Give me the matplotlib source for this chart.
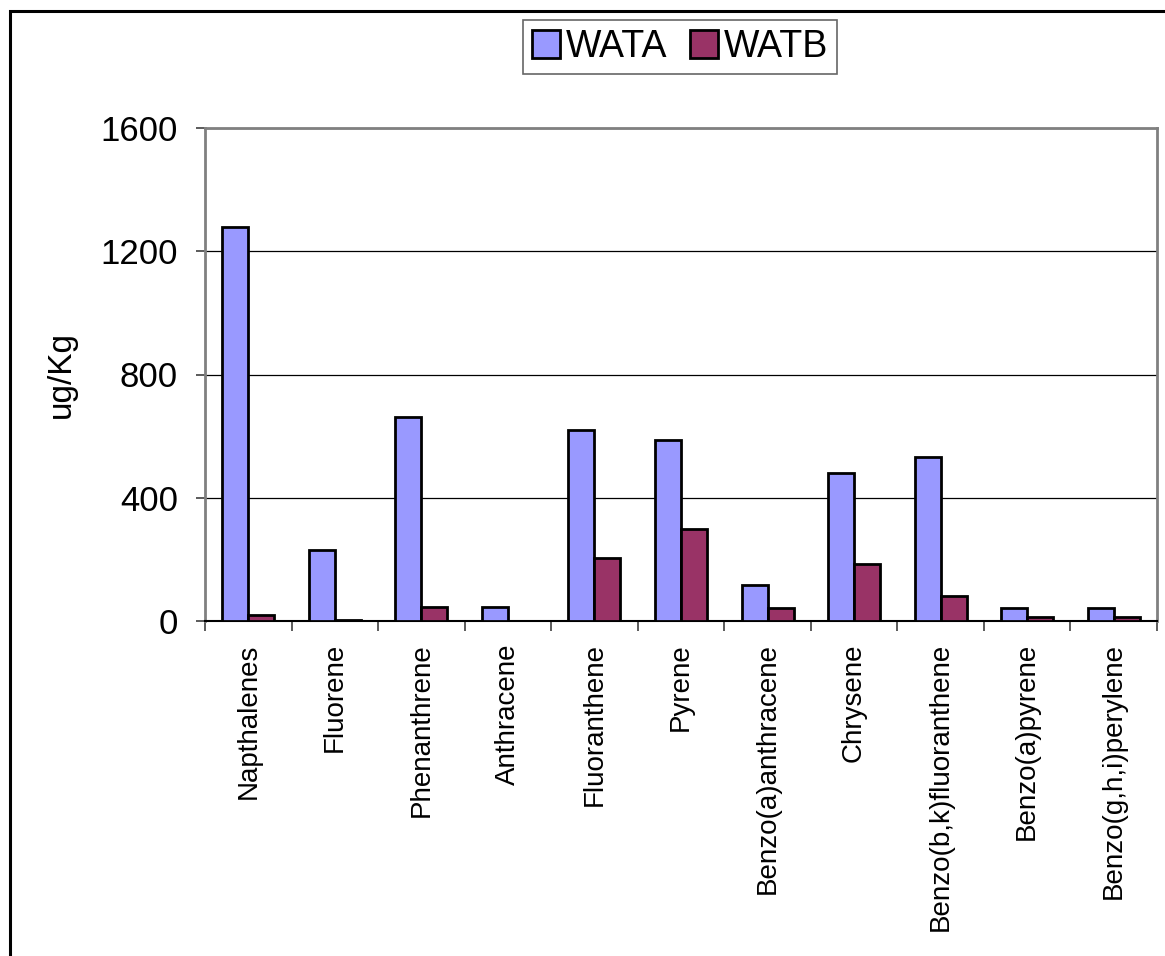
import numpy as np
import matplotlib
matplotlib.use("Agg")
import matplotlib.pyplot as plt
from matplotlib.patches import Rectangle

plt.rcParams['font.family'] = ['Liberation Sans', 'DejaVu Sans']

# Data
compounds = ['Napthalenes', 'Fluorene', 'Phenanthrene', 'Anthracene', 'Fluoranthene',
             'Pyrene', 'Benzo(a)anthracene', 'Chrysene', 'Benzo(b,k)fluoranthene',
             'Benzo(a)pyrene', 'Benzo(g,h,i)perylene']
wata = [1278, 230, 663, 47, 619, 586, 118, 481, 533, 41, 41]
watb = [21, 4, 47, 0, 204, 299, 41, 186, 82, 14, 14]
yticks = [0, 400, 800, 1200, 1600]

W, H = 1165, 956
fig = plt.figure(figsize=(W / 100, H / 100), dpi=100)

# outer chart border (right/bottom cropped off in the source)
fig.patches.append(Rectangle((10 / W, -0.05), 1.2, 1 - 11 / H + 0.05,
                             transform=fig.transFigure, fill=False,
                             edgecolor='black', linewidth=2.2, zorder=0))

ax = fig.add_axes([205 / W, 1 - 621 / H, (1157 - 205) / W, (621 - 128) / H])

x = np.arange(len(compounds))
bw = 0.3
ax.bar(x - bw / 2, wata, bw, color='#9999FF', edgecolor='black', linewidth=2,
       label='WATA', zorder=3)
ax.bar(x + bw / 2, watb, bw, color='#993366', edgecolor='black', linewidth=2,
       label='WATB', zorder=3)

ax.set_xlim(-0.5, len(compounds) - 0.5)
ax.set_ylim(0, 1600)
ax.set_yticks(yticks)
ax.set_yticklabels([str(v) for v in yticks], fontsize=25)
ax.yaxis.grid(True, color='black', linewidth=0.9, zorder=0)
ax.set_axisbelow(True)

# ticks between categories, labels at centres
ax.set_xticks(np.arange(len(compounds) + 1) - 0.5)
ax.set_xticklabels([])
ax.set_xticks(x, minor=True)
ax.set_xticklabels(compounds, minor=True, rotation=90, fontsize=20)
ax.tick_params(axis='x', which='major', length=7, width=1.2, color='#404040', direction='out')
ax.tick_params(axis='x', which='minor', length=0, pad=16)
ax.tick_params(axis='y', length=6.5, width=1.2, color='#404040', direction='out', pad=13)

for s in ['top', 'right', 'left']:
    ax.spines[s].set_color('#808080')
    ax.spines[s].set_linewidth(2)
ax.spines['bottom'].set_color('black')
ax.spines['bottom'].set_linewidth(1.5)

ax.set_ylabel('ug/Kg', fontsize=24)
ax.yaxis.set_label_coords(-128 / (1157 - 205), 0.5)

leg = ax.legend(loc='center', bbox_to_anchor=((521 + 839) / 2 / W, 1 - 47 / H),
                bbox_transform=fig.transFigure, ncol=2, fontsize=27, frameon=True,
                fancybox=False, handlelength=0.75, handleheight=0.75,
                handletextpad=0.15, columnspacing=0.6, borderpad=0.25,
                borderaxespad=0)
leg.get_frame().set_edgecolor('#404040')
leg.get_frame().set_linewidth(1.2)

fig.savefig('out.png', dpi=100)
